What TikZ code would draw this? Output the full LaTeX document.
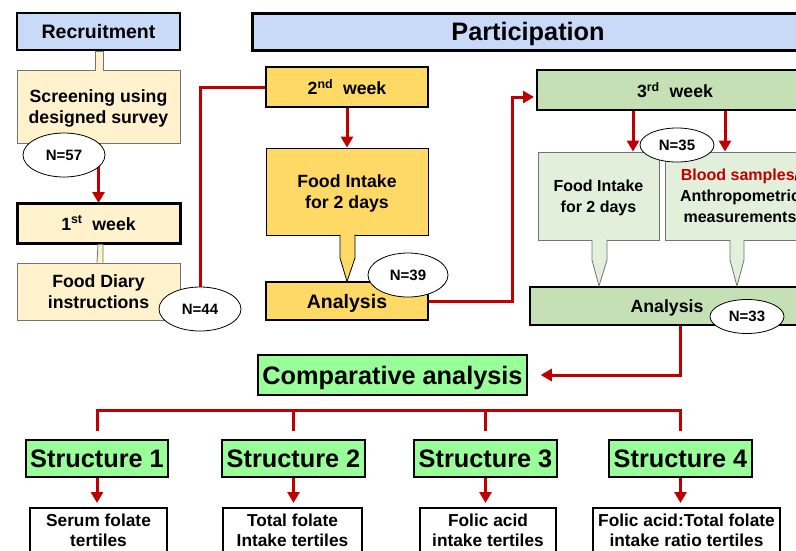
\documentclass[tikz,border=0pt]{standalone}
\usepackage{fontspec}
\setmainfont{Liberation Sans}
\usepackage{tikz}
\usetikzlibrary{shapes,arrows.meta,positioning,calc}
\definecolor{headBlue}{RGB}{201,218,248}
\definecolor{creamBeige}{RGB}{255,242,204}
\definecolor{weekGold}{RGB}{255,217,102}
\definecolor{leafGreen}{RGB}{197,224,180}
\definecolor{paleGreen}{RGB}{226,239,218}
\definecolor{mintGreen}{RGB}{153,255,153}
\definecolor{flowRed}{RGB}{192,0,0}

\begin{document}
\begin{tikzpicture}[x=1pt,y=-1pt,
    box/.style={draw, rectangle, inner sep=0pt, align=center, text depth=0pt,
      font=\fontsize{17.7}{21}\selectfont\bfseries},
    thinbox/.style={box, draw=black!55, line width=0.8pt},
    smalltext/.style={font=\fontsize{16}{21}\selectfont\bfseries},
    bigtext/.style={font=\fontsize{25.3}{28}\selectfont\bfseries},
    count/.style={ellipse, draw, fill=white, line width=0.8pt, inner sep=0pt,
      font=\fontsize{15}{17}\selectfont\bfseries},
    flow/.style={draw=flowRed, line width=3pt},
    flowarrow/.style={flow, -{Triangle[length=11pt,width=12pt]}},
    tab/.style={line width=0.8pt, draw=black!55}]
  \useasboundingbox (0,0) rectangle (796,550);
  \clip (0,0) rectangle (796,550);

  % Recruitment
  \node[box, fill=headBlue, line width=2pt, minimum width=163pt, minimum height=37pt,
    font=\fontsize{19.5}{22}\selectfont\bfseries] (recruit) at (98.5,31.5) {Recruitment};
  \node[thinbox, fill=creamBeige, minimum width=163pt, minimum height=73pt] (screen) at (98.5,106.5)
    {Screening using\\designed survey};
  \filldraw[tab, fill=creamBeige] (95,70.6) -- (95,51) -- (103,51) -- (103,70.6);
  \draw[flowarrow] (screen.south -| recruit.south) -- (98.5,203);
  \node[count, minimum width=82pt, minimum height=44pt] (n57) at (64,155) {N=57};

  % 1st week
  \node[box, fill=creamBeige, line width=3pt, minimum width=163pt, minimum height=40pt] (week1) at (98.5,223)
    {1\textsuperscript{st}\ \ week};
  \node[thinbox, fill=creamBeige, minimum width=163pt, minimum height=57pt] (diary) at (98.5,291.5)
    {Food Diary\\instructions};
  \filldraw[tab, fill=creamBeige] (97,262.6) -- (98,244.5) -- (103,244.5) -- (103,262.6);
  \node[count, minimum width=82pt, minimum height=44pt] (n44) at (200,309) {N=44};
  \draw[flow] (n44.north) |- (266,87);

  % Participation
  \node[box, fill=headBlue, line width=3pt, minimum width=552pt, minimum height=37pt,
    font=\fontsize{25.3}{28}\selectfont\bfseries] (particip) at (528,31.5) {Participation};

  % 2nd week
  \node[box, fill=weekGold, line width=2.5pt, minimum width=162pt, minimum height=40pt] (week2) at (347,87)
    {2\textsuperscript{nd}\ \ week};
  \node[thinbox, draw=black, fill=weekGold, minimum width=162pt, minimum height=87pt] (food2) at (347,191.5)
    {Food Intake\\for 2 days};
  \node[box, fill=weekGold, line width=2.5pt, minimum width=162pt, minimum height=38pt,
    font=\fontsize{19.5}{22}\selectfont\bfseries] (anal2) at (347,301) {Analysis};
  \filldraw[line width=0.8pt, fill=weekGold] (340,234.6) -- (340,258) -- (347,281.5) -- (355,258) -- (355,234.6);
  \draw[flowarrow] (week2.south) -- (food2.north);
  \node[count, minimum width=80pt, minimum height=44pt] (n39) at (408,275) {N=39};
  \coordinate (jog) at (512,0);
  \draw[flowarrow, shorten >=3pt] (anal2.east) -- (anal2.east -| jog) |- (537,97);

  % 3rd week
  \node[box, fill=leafGreen, line width=2pt, minimum width=276pt, minimum height=40pt] (week3) at (675,90)
    {3\textsuperscript{rd}\ \ week};
  \node[thinbox, fill=paleGreen, minimum width=121pt, minimum height=88pt, smalltext] (food3) at (598.5,196)
    {Food Intake\\for 2 days};
  \node[thinbox, fill=paleGreen, minimum width=150pt, minimum height=88pt, smalltext] (blood) at (740,196)
    {{\color{flowRed}Blood samples}/\\Anthropometric\\measurements};
  \node[box, fill=leafGreen, line width=2pt, minimum width=274pt, minimum height=38pt] (anal3) at (667,306)
    {Analysis};
  \filldraw[tab, fill=paleGreen] (592,239.6) -- (592,260) -- (599,286) -- (607,260) -- (607,239.6);
  \filldraw[tab, fill=paleGreen] (730,239.6) -- (730,260) -- (737,286) -- (744,260) -- (744,239.6);
  \coordinate (tapA) at (633,0);
  \coordinate (tapB) at (725,0);
  \draw[flowarrow] (week3.south -| tapA) -- (food3.north -| tapA);
  \draw[flowarrow] (week3.south -| tapB) -- (blood.north -| tapB);
  \node[count, minimum width=74pt, minimum height=34pt] (n35) at (677,145) {N=35};

  % Comparative analysis
  \node[box, fill=mintGreen, line width=1.5pt, minimum width=269pt, minimum height=40pt, bigtext] (comp) at (392.5,375)
    {Comparative analysis};
  \foreach \i/\cx/\w in {1/97/142, 2/293.5/143, 3/485.5/143, 4/680.5/143}
    \node[box, fill=mintGreen, line width=2pt, minimum width=\w pt, minimum height=37pt, bigtext] (s\i) at (\cx,458.5)
      {Structure \i};
  \draw[flowarrow, shorten >=13pt] (anal3.south -| s4.north) |- (comp.east);
  \node[count, minimum width=74pt, minimum height=34pt] (n33) at (747,316.5) {N=33};
  \coordinate (bar) at (0,410);
  \draw[flow] ([yshift=8pt]s1.north) -- (s1.north |- bar) -- (s4.north |- bar) -- ([yshift=8pt]s4.north);
  \draw[flow] (s2.north |- bar) -- ([yshift=8pt]s2.north);
  \draw[flow] (s3.north |- bar) -- ([yshift=8pt]s3.north);

  % Tertile groups
  \foreach \i/\cx/\w/\txt in {1/98.5/137/{Serum folate\\tertiles},
      2/292.5/139/{Total folate\\Intake tertiles},
      3/488/136/{Folic acid\\intake tertiles},
      4/686.5/187/{Folic acid:Total folate\\intake ratio tertiles}}
    \node[box, line width=1.5pt, anchor=north, minimum width=\w pt, inner ysep=6pt, text depth=30pt,
      font=\fontsize{17.3}{20}\selectfont\bfseries] (r\i) at (\cx,507) {\txt};
  \foreach \i in {1,2,3,4}
    \draw[flowarrow, shorten >=4pt] (s\i.south) -- (s\i.south |- r\i.north);
\end{tikzpicture}
\end{document}
